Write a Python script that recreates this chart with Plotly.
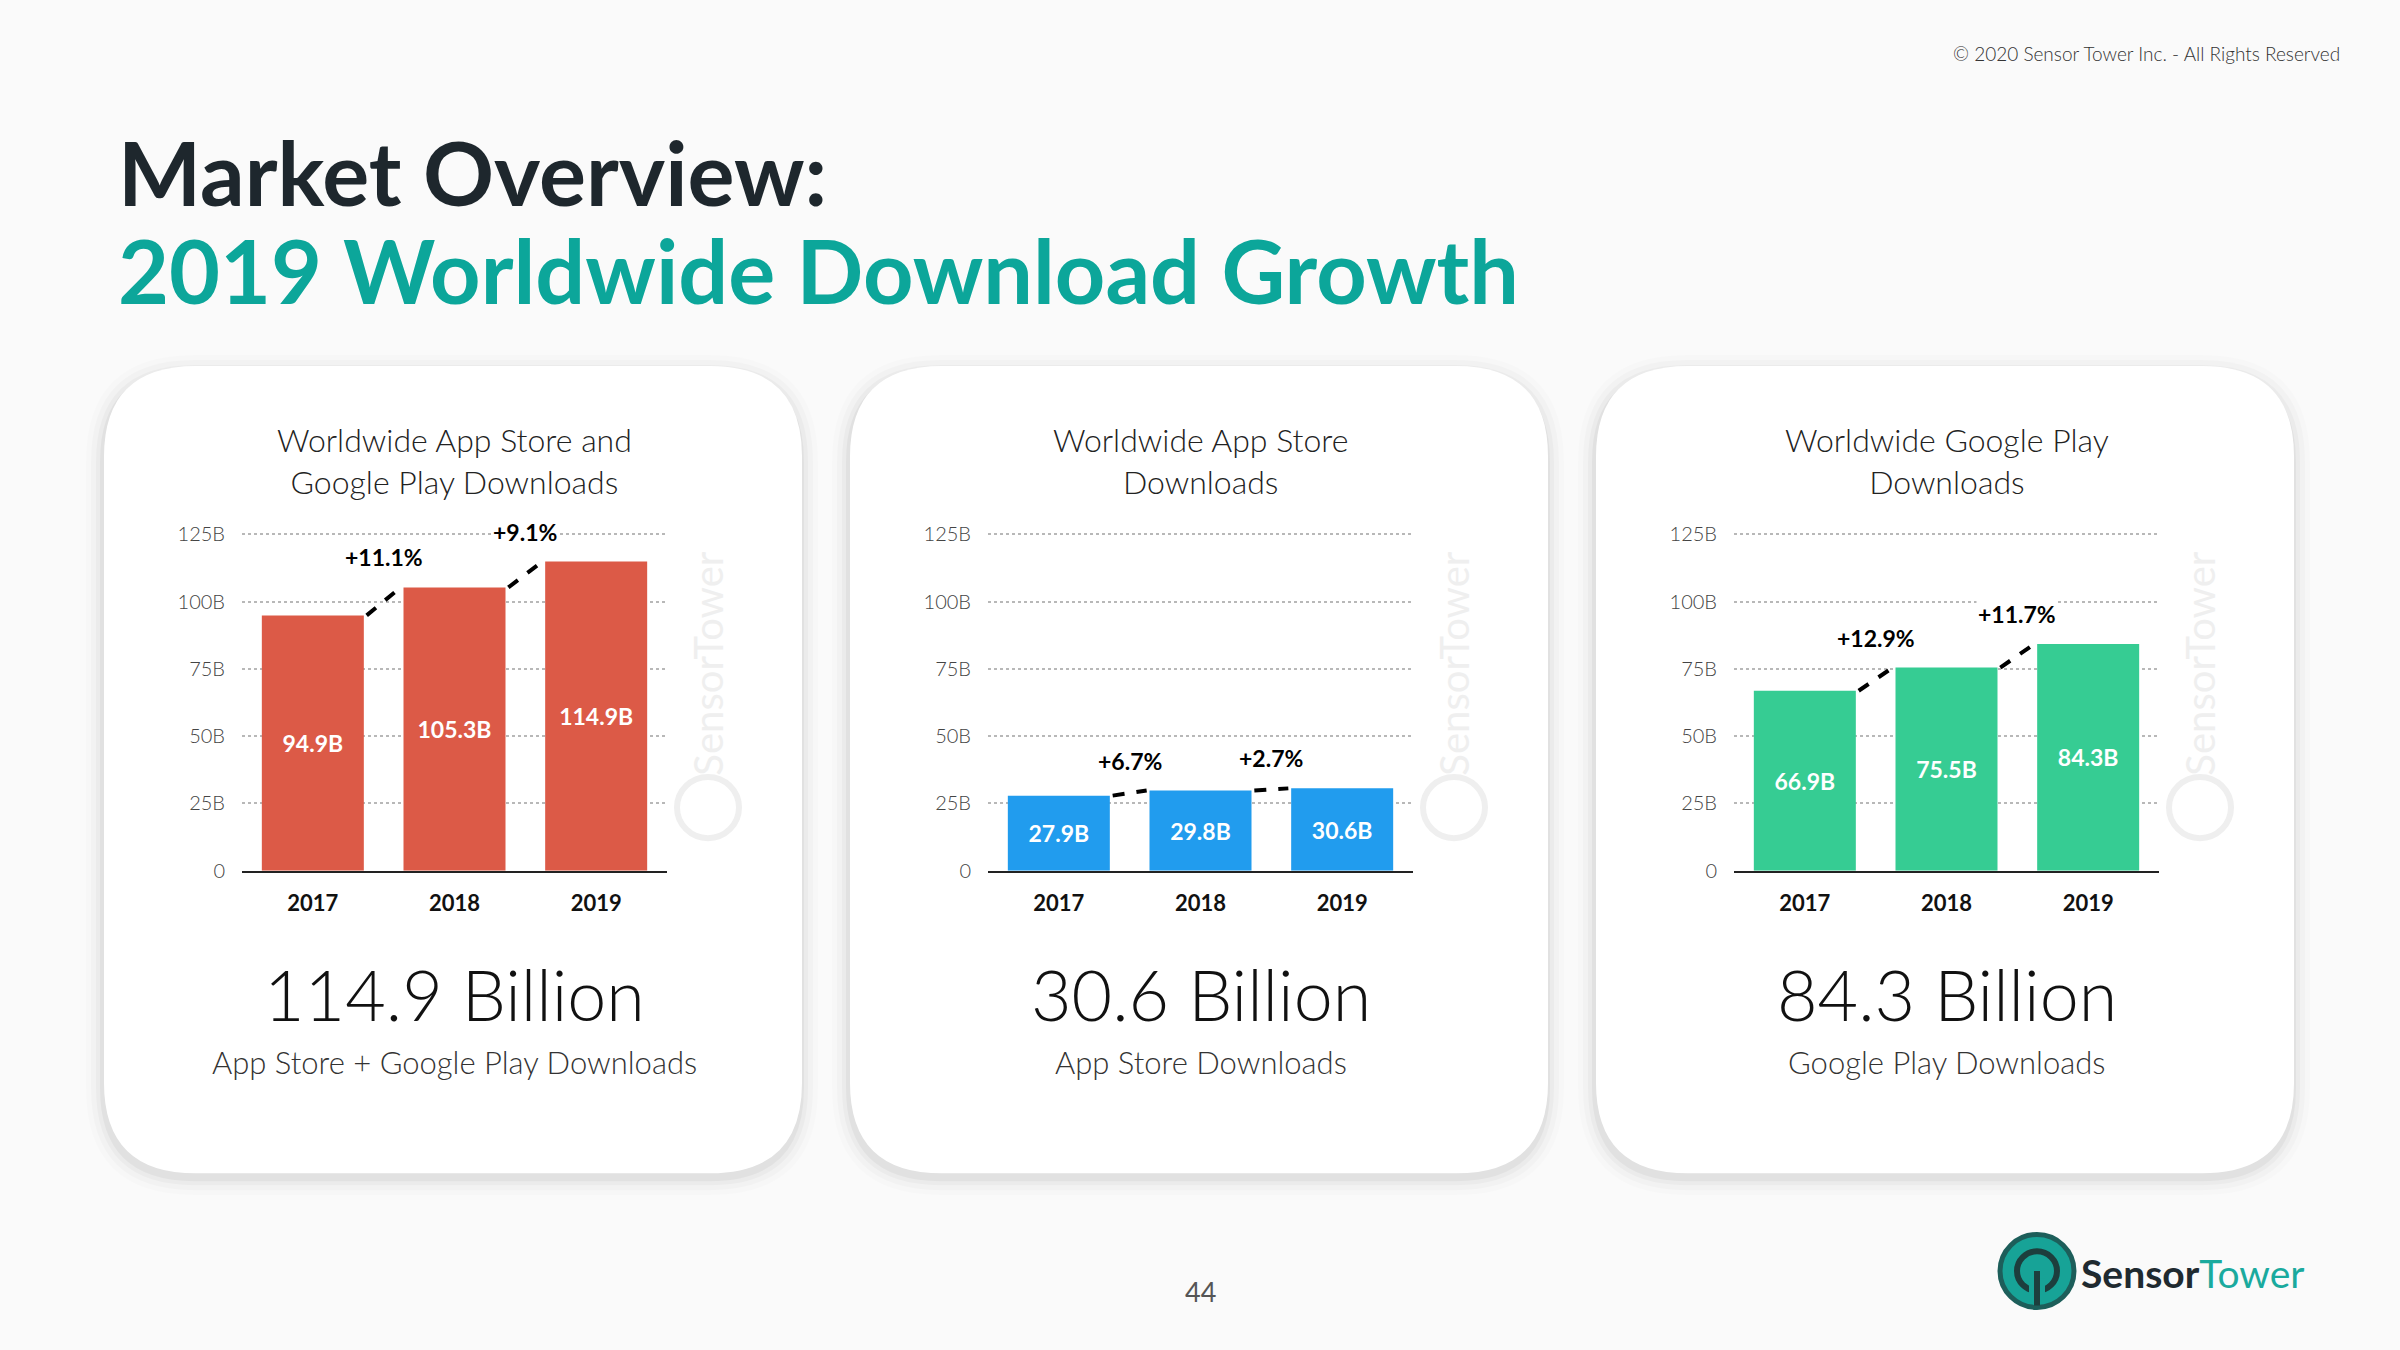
import plotly.graph_objects as go

# data
years = ["2017", "2018", "2019"]
total_downloads = [94.9, 105.3, 114.9]
appstore_downloads = [27.9, 29.8, 30.6]
googleplay_downloads = [66.9, 75.5, 84.3]

total_growth = ["+11.1%", "+9.1%"]
appstore_growth = ["+6.7%", "+2.7%"]
googleplay_growth = ["+12.9%", "+11.7%"]

y_tickvals = [0, 25, 50, 75, 100, 125]
y_ticktext = ["0", "25B", "50B", "75B", "100B", "125B"]

chart_titles = ["Worldwide App Store and<br>Google Play Downloads",
                "Worldwide App Store<br>Downloads",
                "Worldwide Google Play<br>Downloads"]
big_numbers = ["114.9 Billion", "30.6 Billion", "84.3 Billion"]
big_captions = ["App Store + Google Play Downloads", "App Store Downloads",
                "Google Play Downloads"]

W, H = 2400, 1350
FONT = "Lato"
TEAL = "#0ca69a"
DARK = "#1e272d"
bar_colors = ["#dc5a47", "#219cee", "#36cc93"]


def px(x):
    return x / W


def py(y):
    return 1 - y / H


def rounded_rect(x0, y0, x1, y1, r):
    # path in paper coords, pixel inputs (y downwards)
    rx, ry = r / W, r / H
    a, b, c, d = px(x0), py(y1), px(x1), py(y0)
    return (f"M {a+rx},{b} L {c-rx},{b} Q {c},{b} {c},{b+ry} "
            f"L {c},{d-ry} Q {c},{d} {c-rx},{d} L {a+rx},{d} "
            f"Q {a},{d} {a},{d-ry} L {a},{b+ry} Q {a},{b} {a+rx},{b} Z")


def note(x, y, text, size, color, weight=None, xanchor="center", **kw):
    f = dict(family=FONT, size=size, color=color)
    if weight:
        f["weight"] = weight
    return dict(x=px(x), y=py(y), xref="paper", yref="paper", text=text,
                showarrow=False, xanchor=xanchor, yanchor="middle", font=f, **kw)


fig = go.Figure()

series = [total_downloads, appstore_downloads, googleplay_downloads]
growths = [total_growth, appstore_growth, googleplay_growth]
card_x = [104, 850, 1596]
card_w = 698
plot_off = 138   # plot left inside card
plot_w = 425
y_bottom, y_top = 875, 528.5

shapes = []
annotations = []

for k in range(3):
    cx0 = card_x[k]
    # shadow + card
    for grow, alpha in [(16, 0.01), (11, 0.018), (6, 0.028), (2, 0.04)]:
        shapes.append(dict(type="path", xref="paper", yref="paper", layer="below",
                           path=rounded_rect(cx0 - grow - 2, 363 - grow + 5, cx0 + card_w + grow,
                                             1182 + grow + 6, 92 + grow),
                           fillcolor=f"rgba(0,0,0,{alpha})", line=dict(width=0)))
    shapes.append(dict(type="path", xref="paper", yref="paper", layer="below",
                       path=rounded_rect(cx0, 363, cx0 + card_w, 1182, 92),
                       fillcolor="white", line=dict(width=0)))

    p0 = cx0 + plot_off
    p1 = p0 + plot_w
    xa = "x" if k == 0 else f"x{k+1}"
    ya = "y" if k == 0 else f"y{k+1}"
    vals = series[k]

    fig.add_trace(go.Bar(
        x=[0, 1, 2], y=vals, xaxis=xa, yaxis=ya,
        marker=dict(color=bar_colors[k], line=dict(width=0)),
        width=0.72,
        texttemplate="%{y:.1f}B", textposition="inside", insidetextanchor="middle",
        textangle=0,
        textfont=dict(family=FONT, size=23, color="white", weight="bold"),
        hoverinfo="skip", showlegend=False))

    # growth connectors between bar tops
    for i in range(2):
        fig.add_trace(go.Scatter(
            x=[i + 0.38, i + 1 - 0.38], y=[vals[i], vals[i + 1]],
            xaxis=xa, yaxis=ya, mode="lines",
            line=dict(color="black", width=4, dash="dash"),
            hoverinfo="skip", showlegend=False))
        annotations.append(dict(
            x=i + 0.5, y=vals[i + 1], xref=xa, yref=ya, text=f"<b>{growths[k][i]}</b>",
            showarrow=False, xanchor="center", yanchor="middle", yshift=30, bgcolor="white",
            font=dict(family=FONT, size=23, color="black")))

    dom = [px(p0), px(p1)]
    axis_x = dict(domain=dom, anchor=ya, range=[-0.5, 2.5], tickvals=[0, 1, 2],
                  ticktext=[f"<b>{yr}</b>" for yr in years],
                  tickfont=dict(family=FONT, size=22, color="#111111"),
                  showgrid=False, zeroline=False, showline=True, linecolor="#222222",
                  linewidth=1.5, ticks="", ticklabelstandoff=12, fixedrange=True)
    axis_y = dict(domain=[py(y_bottom), py(y_top)], anchor=xa, range=[0, 127],
                  tickvals=y_tickvals, ticktext=y_ticktext,
                  tickfont=dict(family=FONT, size=20, color="#444444", weight=300),
                  showgrid=True, gridcolor="#b8b8b8", griddash="dot", gridwidth=1.5,
                  zeroline=False, showline=False, ticks="", ticklabelstandoff=16,
                  fixedrange=True)
    if k == 0:
        fig.update_layout(xaxis=axis_x, yaxis=axis_y)
    else:
        fig.update_layout(**{f"xaxis{k+1}": axis_x, f"yaxis{k+1}": axis_y})

    mid = (p0 + p1) / 2
    annotations.append(note(mid, 459, chart_titles[k], 32, "#222222", 300, align="center"))
    annotations.append(note(mid, 1000, big_numbers[k], 70, "#111111", 300))
    annotations.append(note(mid, 1069, big_captions[k], 31, "#333333", 300))

    # faint watermark
    wx = p1 + 41
    annotations.append(note(wx, 665, "SensorTower", 40, "#efefef", textangle=-90))
    shapes.append(dict(type="circle", xref="paper", yref="paper",
                       x0=px(wx - 31), x1=px(wx + 31), y0=py(811 + 31), y1=py(811 - 31),
                       line=dict(color="#efefef", width=6)))

# headline
annotations.append(note(116, 166, "<b>Market Overview:</b>", 88, DARK, xanchor="left"))
annotations.append(note(116, 266, "<b>2019 Worldwide Download Growth</b>", 88, TEAL,
                        xanchor="left"))
annotations.append(note(2342, 46, "© 2020 Sensor Tower Inc. - All Rights Reserved", 19,
                        "#333333", 300, xanchor="right"))
annotations.append(note(1200, 1302, "44", 27, "#555555"))

# logo
lx, ly, lr = 2037, 1281, 37
shapes.append(dict(type="circle", xref="paper", yref="paper",
                   x0=px(lx - lr), x1=px(lx + lr), y0=py(ly + lr), y1=py(ly - lr),
                   fillcolor="#17a397", line=dict(color="#1d5e5a", width=5)))
shapes.append(dict(type="circle", xref="paper", yref="paper",
                   x0=px(lx - 20), x1=px(lx + 20), y0=py(ly + 20), y1=py(ly - 20),
                   line=dict(color="#1d3e3d", width=6)))
shapes.append(dict(type="rect", xref="paper", yref="paper",
                   x0=px(lx - 8), x1=px(lx + 8), y0=py(ly + 24), y1=py(ly + 8),
                   fillcolor="#17a397", line=dict(width=0)))
shapes.append(dict(type="line", xref="paper", yref="paper",
                   x0=px(lx), x1=px(lx), y0=py(ly), y1=py(ly + lr - 2),
                   line=dict(color="#1d3e3d", width=6)))
annotations.append(note(2079, 1283, "<b>Sensor</b><span style='color:#1aaa9e'>Tower</span>",
                        39, "#1f2a30", xanchor="left"))

fig.update_layout(
    width=W, height=H, margin=dict(l=0, r=0, t=0, b=0),
    paper_bgcolor="#fafafa", plot_bgcolor="rgba(0,0,0,0)",
    shapes=shapes, annotations=annotations, bargap=0.28,
    font=dict(family=FONT),
)

page_fix = ("document.documentElement.style.margin='0';"
            "document.body.style.margin='0';"
            "document.body.style.overflow='hidden';"
            "document.documentElement.style.overflow='hidden';"
            "document.body.style.height='1350px';"
            "document.body.style.lineHeight='0';")
fig.write_html("out.html", config={"displayModeBar": False}, post_script=page_fix)
